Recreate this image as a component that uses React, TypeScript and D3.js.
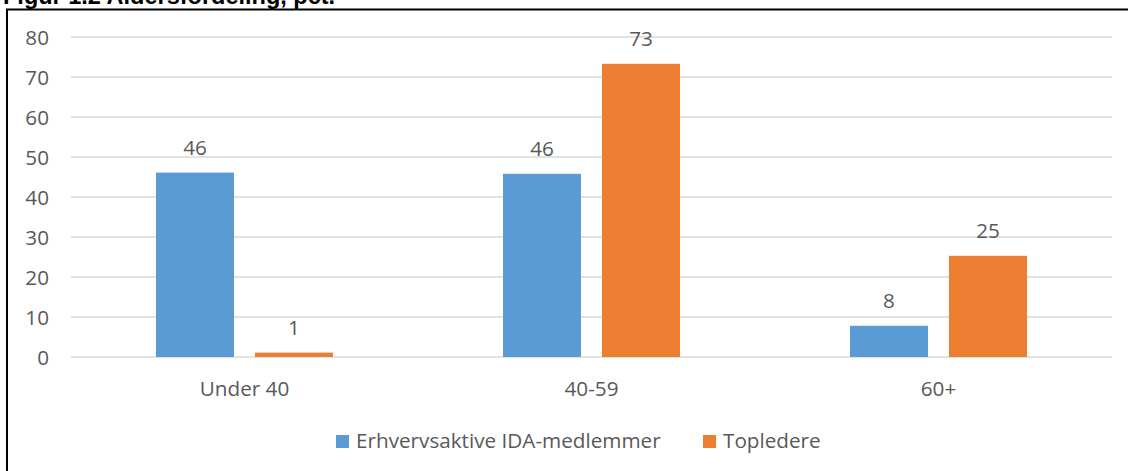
import React from "react";
import * as d3 from "d3";

const categories = ["Under 40", "40-59", "60+"];
const seriesNames = ["Erhvervsaktive IDA-medlemmer", "Topledere"];
const members = [46.1, 45.8, 7.8];
const leaders = [1.1, 73.3, 25.3];
const yTicks = [0, 10, 20, 30, 40, 50, 60, 70, 80];
const title = "Figur 1.2 Aldersfordeling, pct.";

const colors = ["#5B9BD5", "#ED7D31"];
const textColor = "#595959";
const font = "'Open Sans', 'Noto Sans', sans-serif";
const fontSize = 20.7;

const W = 1128;
const H = 471;
const plot = { left: 71, right: 1112, top: 37, bottom: 357 };

export default function App() {
  const x0 = d3
    .scaleBand<string>()
    .domain(categories)
    .range([plot.left, plot.right])
    .paddingInner(0)
    .paddingOuter(0);
  const y = d3.scaleLinear().domain([0, 80]).range([plot.bottom, plot.top]);

  const barW = 78;
  const gap = 21;
  const series = [members, leaders];
  const fmt = d3.format(".0f");

  return (
    <div style={{ position: "absolute", left: 0, top: 0 }}>
      <svg width={W} height={H} style={{ display: "block", background: "#fff" }}>
        <text
          x={3}
          y={4}
          fontFamily="'Liberation Sans', Arial, sans-serif"
          fontWeight="bold"
          fontSize={23.5}
          fill="#000"
        >
          {title}
        </text>
        {/* outer frame */}
        <path d={`M7,${H + 5} V9.5 H${W + 5}`} fill="none" stroke="#000" strokeWidth={2} />

        {/* gridlines and y ticks */}
        {yTicks.map((t) => (
          <g key={t}>
            <line
              x1={plot.left}
              x2={plot.right}
              y1={y(t)}
              y2={y(t)}
              stroke="#D9D9D9"
              strokeWidth={1.5}
            />
            <text
              x={49}
              y={y(t) + 8}
              textAnchor="end"
              fontFamily={font}
              fontSize={fontSize}
              fill={textColor}
            >
              {t}
            </text>
          </g>
        ))}

        {/* bars and value labels */}
        {categories.map((c, i) => {
          const cx = (x0(c) as number) + x0.bandwidth() / 2;
          return (
            <g key={c}>
              {series.map((vals, s) => {
                const bx = s === 0 ? cx - gap / 2 - barW : cx + gap / 2;
                const v = vals[i];
                return (
                  <g key={s}>
                    <rect
                      x={bx}
                      y={y(v)}
                      width={barW}
                      height={y(0) - y(v)}
                      fill={colors[s]}
                    />
                    <text
                      x={bx + barW / 2}
                      y={y(v) - 18}
                      textAnchor="middle"
                      fontFamily={font}
                      fontSize={fontSize}
                      fill={textColor}
                    >
                      {fmt(v)}
                    </text>
                  </g>
                );
              })}
              <text
                x={cx}
                y={396}
                textAnchor="middle"
                fontFamily={font}
                fontSize={fontSize}
                fill={textColor}
              >
                {c}
              </text>
            </g>
          );
        })}

        {/* legend */}
        {seriesNames.map((name, s) => {
          const lx = s === 0 ? 336 : 703;
          return (
            <g key={name}>
              <rect x={lx} y={435} width={13} height={13} fill={colors[s]} />
              <text
                x={lx + 20}
                y={448}
                fontFamily={font}
                fontSize={fontSize}
                fill={textColor}
              >
                {name}
              </text>
            </g>
          );
        })}
      </svg>
    </div>
  );
}
